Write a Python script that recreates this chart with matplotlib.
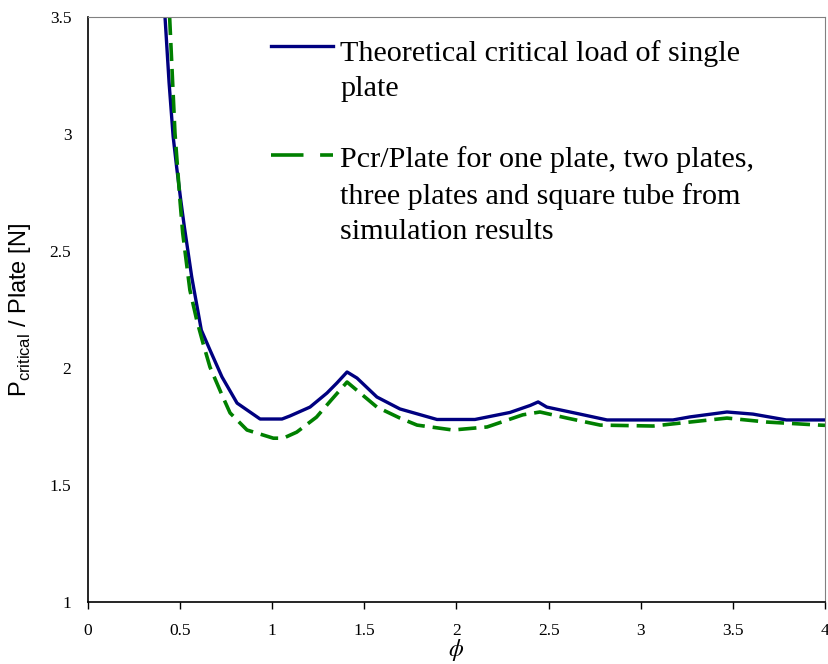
import numpy as np
import matplotlib
matplotlib.use('Agg')
import matplotlib.pyplot as plt

plt.rcParams['mathtext.fontset'] = 'custom'
plt.rcParams['mathtext.rm'] = 'Liberation Sans'

# theoretical critical load of a single plate
phi_theory = [0.418, 0.440, 0.462, 0.481, 0.503, 0.523, 0.563, 0.615, 0.662, 0.727, 0.809, 0.934,
              1.053, 1.096, 1.205, 1.297, 1.351, 1.406, 1.46, 1.568, 1.693, 1.894,
              2.10, 2.29, 2.40, 2.443, 2.49, 2.67, 2.817, 3.175, 3.267, 3.468,
              3.609, 3.79, 4.0]
p_theory = [3.50, 3.22, 2.99, 2.859, 2.72, 2.603, 2.389, 2.162, 2.077, 1.962, 1.850, 1.782,
            1.782, 1.795, 1.833, 1.893, 1.936, 1.983, 1.957, 1.876, 1.825, 1.780,
            1.780, 1.810, 1.840, 1.855, 1.833, 1.803, 1.778, 1.778, 1.791, 1.812,
            1.803, 1.778, 1.778]

# simulation results (Pcr / plate)
phi_sim = [0.443, 0.472, 0.499, 0.514, 0.553, 0.590, 0.624, 0.662, 0.727, 0.771,
           0.863, 1.006, 1.06, 1.133, 1.24, 1.32, 1.406, 1.568, 1.693, 1.786,
           1.98, 2.166, 2.36, 2.453, 2.60, 2.78, 3.067, 3.267, 3.468, 3.685,
           3.97, 4.0]
p_sim = [3.50, 3.004, 2.718, 2.577, 2.333, 2.205, 2.107, 2.004, 1.885, 1.808,
         1.735, 1.700, 1.700, 1.726, 1.790, 1.863, 1.940, 1.833, 1.786, 1.756,
         1.735, 1.748, 1.800, 1.812, 1.786, 1.756, 1.752, 1.769, 1.786, 1.769,
         1.756, 1.755]

label_theory = 'Theoretical critical load of single\nplate'
label_sim = ('Pcr/Plate for one plate, two plates,\nthree plates and square tube from\n'
             'simulation results')

blue = '#000080'
green = '#008000'

fig = plt.figure(figsize=(8.29, 6.64), dpi=100)
ax = fig.add_axes([88 / 829, 1 - 602 / 664, 737 / 829, 585 / 664])

ax.plot(phi_theory, p_theory, color=blue, lw=2.4, solid_joinstyle='round')
ax.plot(phi_sim, p_sim, color=green, lw=2.6, dashes=(5, 2.2))

ax.set_xlim(0, 4)
ax.set_ylim(1, 3.5)
ax.set_xticks(np.arange(0, 4.01, 0.5))
ax.set_xticklabels(['0', '0.5', '1', '1.5', '2', '2.5', '3', '3.5', '4'])
ax.set_yticks(np.arange(1, 3.51, 0.5))
ax.set_yticklabels(['1', '1.5', '2', '2.5', '3', '3.5'])

for lab in ax.get_xticklabels() + ax.get_yticklabels():
    lab.set_fontfamily('Liberation Serif')
    lab.set_fontsize(12.5)
ax.tick_params(axis='x', direction='out', length=5, width=1, pad=10)
ax.tick_params(axis='y', length=0, pad=12)

for s in ['left', 'bottom']:
    ax.spines[s].set_color('black')
    ax.spines[s].set_linewidth(1.2)
for s in ['top', 'right']:
    ax.spines[s].set_color('#808080')
    ax.spines[s].set_linewidth(0.8)

ax.set_ylabel(r'P$_{\mathrm{critical}}$ / Plate [N]', fontfamily='Liberation Sans',
              fontsize=17, labelpad=12)
ax.set_xlabel(r'$\phi$', fontsize=17, math_fontfamily='stix', labelpad=-1)

# legend drawn in Excel style: sample line next to the first text line
ax.plot([0.248, 0.332], [0.950, 0.950], transform=ax.transAxes, color=blue, lw=2.4,
        clip_on=False)
ax.plot([0.248, 0.332], [0.764, 0.764], transform=ax.transAxes, color=green, lw=2.6,
        dashes=(9, 4.6), clip_on=False)
ax.text(0.342, 0.961, label_theory, transform=ax.transAxes, va='top', ha='left',
        fontfamily='Liberation Serif', fontsize=21.7, linespacing=1.45)
ax.text(0.342, 0.779, label_sim, transform=ax.transAxes, va='top', ha='left',
        fontfamily='Liberation Serif', fontsize=21.7, linespacing=1.45)

fig.savefig('out.png', dpi=100)
